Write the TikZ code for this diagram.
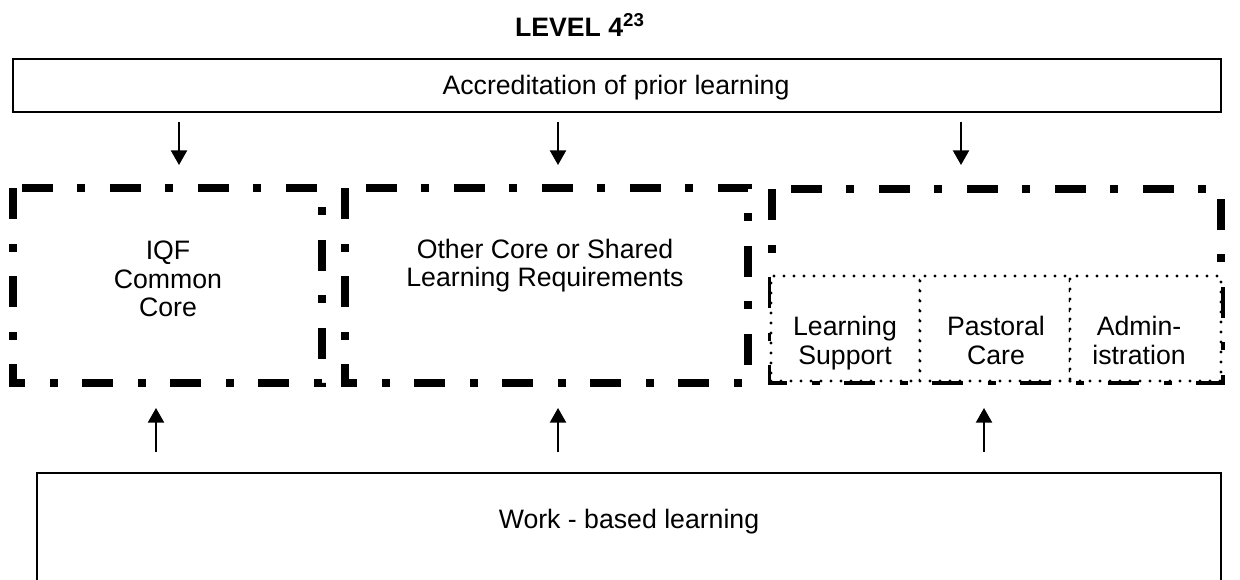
\documentclass[tikz,border=0pt]{standalone}
\usepackage{fontspec}
\setmainfont{Liberation Sans}
\usetikzlibrary{arrows.meta}
\begin{document}
\begin{tikzpicture}[x=0.48pt,y=-0.48pt,
  txt/.style={font=\fontsize{12.8pt}{13.8pt}\selectfont, align=center, inner sep=0pt},
  area/.style={rectangle, inner sep=0pt, outer sep=0pt},
  solidbox/.style={area, draw, line width=1pt},
  dashdot/.style={line width=3.84pt, line join=miter,
    dash pattern=on 14.9pt off 12pt on 3.84pt off 11.5pt},
  dotbox/.style={area, fill=white, draw, line width=1.6pt, line cap=round,
    dash pattern=on 0pt off 4.8pt},
  flow/.style={-{Triangle[width=7.7pt,length=7pt]}, line width=0.9pt}
]
\useasboundingbox (0,0) rectangle (1240,579);

% heading
\node[txt, anchor=base, font={\fontsize{12.8pt}{13.8pt}\selectfont\bfseries}] (title)
  at (580,36) {LEVEL 4\textsuperscript{23}};

% accreditation of prior learning
\node[solidbox, minimum width=579.84pt, minimum height=25.44pt] (apl) at (617,85.5) {};
\node[txt] (aplt) at (616,88) {Accreditation of prior learning};

% the three learning areas
\node[area, minimum width=148.32pt, minimum height=93.6pt] (b1) at (167.5,285.5) {};
\node[area, minimum width=193.44pt, minimum height=93.6pt] (b2) at (546.5,285.5) {};
\node[area, minimum width=215.52pt, minimum height=92.16pt] (b3) at (996.5,285) {};
\foreach \b in {b1,b2,b3}
  \draw[dashdot] (\b.north west) -- (\b.south west) -- (\b.south east)
    -- (\b.north east) -- cycle;

\node[txt] (t1) at (168,279) {IQF\\Common\\Core};
\node[txt] (t2) at (545,265.5) {Other Core or Shared\\Learning Requirements};

% support services
\node[dotbox, minimum width=71.52pt, minimum height=50.4pt] (s1) at (845.5,328.5) {};
\node[dotbox, minimum width=72pt, minimum height=50.4pt] (s2) at (995,328.5) {};
\node[dotbox, minimum width=72.48pt, minimum height=50.4pt] (s3) at (1145.5,328.5) {};
\node[txt] (u1) at (845,343) {Learning\\Support};
\node[txt] (u2) at (996,340.5) {Pastoral\\Care};
\node[txt] (u3) at (1139,340.5) {Admin-\\istration};

% work-based learning
\begin{scope}
  \clip (0,0) rectangle (1240,579);
  \node[solidbox, minimum width=568.32pt, minimum height=60.96pt] (wbl) at (629,536.5) {};
\end{scope}
\node[txt] (wblt) at (629,521.5) {Work - based learning};

% arrow columns
\coordinate (dA) at (179,0);
\coordinate (dB) at (558,0);
\coordinate (dC) at (961,0);
\coordinate (uA) at (156,0);
\coordinate (uB) at (558,0);
\coordinate (uC) at (984,0);

\draw[flow, shorten <=4.8pt, shorten >=11.04pt] (apl.south -| dA) -- (b1.north -| dA);
\draw[flow, shorten <=4.8pt, shorten >=11.04pt] (apl.south -| dB) -- (b2.north -| dB);
\draw[flow, shorten <=4.8pt, shorten >=11.52pt] (apl.south -| dC) -- (b3.north -| dC);

\draw[flow, shorten <=10.08pt, shorten >=12pt] (wbl.north -| uA) -- (b1.south -| uA);
\draw[flow, shorten <=10.08pt, shorten >=12pt] (wbl.north -| uB) -- (b2.south -| uB);
\draw[flow, shorten <=10.08pt, shorten >=12.96pt] (wbl.north -| uC) -- (s2.south -| uC);
\end{tikzpicture}
\end{document}
